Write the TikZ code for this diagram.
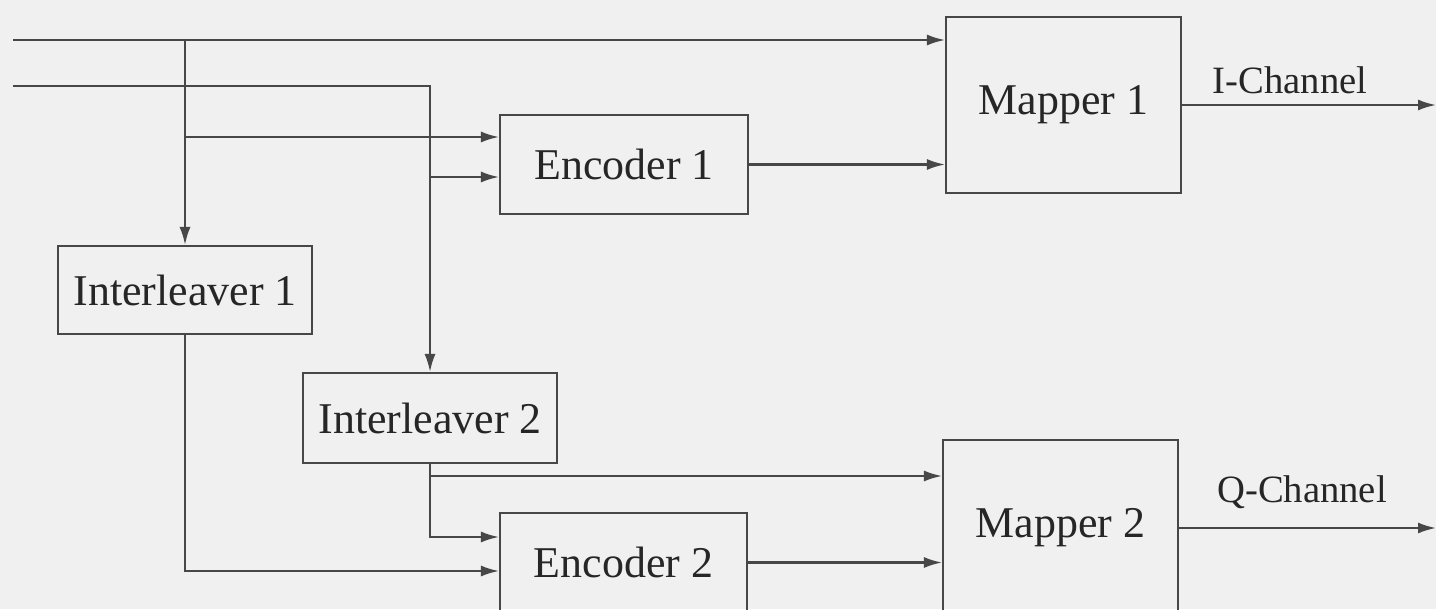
\documentclass[tikz,border=0pt]{standalone}
\usepackage{fontspec}
\setmainfont{Liberation Serif}
\usetikzlibrary{calc,arrows.meta,positioning}
\colorlet{lineA}{black!72}
\colorlet{textA}{black!85}
\colorlet{paperA}{black!6}
\tikzset{
  block/.style={draw=lineA, line width=0.6pt, rectangle, inner sep=0pt,
    text=textA, font=\fontsize{12.5}{14}\selectfont},
  signal/.style={draw=lineA, line width=0.6pt, -{Latex[length=1.8mm,width=1.1mm]}},
  chanlabel/.style={text=textA, inner sep=0pt, font=\fontsize{11}{13}\selectfont}
}

\begin{document}
\begin{tikzpicture}
      % page frame (scanned figure, cut at the bottom)
      \useasboundingbox (0,0) rectangle (14.36,6.09);
      \fill[paperA] (0,0) rectangle (14.36,6.09);
      \clip (0,0) rectangle (14.36,6.09);

      % Blocks
      \node[block, minimum width=2.35cm, minimum height=1.76cm] (map1) at (10.635,5.04) {Mapper 1};
      \node[block, minimum width=2.48cm, minimum height=0.99cm] (enc1) at (6.24,4.445) {Encoder 1};
      \node[block, minimum width=2.54cm, minimum height=0.88cm] (int1) at (1.85,3.19) {Interleaver 1};
      \node[block, minimum width=2.54cm, minimum height=0.90cm] (int2) at (4.30,1.91) {Interleaver 2};
      \node[block, minimum width=2.47cm, minimum height=0.99cm] (enc2) at (6.235,0.465) {Encoder 2};
      \node[block, minimum width=2.35cm, minimum height=1.76cm] (map2) at (10.605,0.81) {Mapper 2};

      % Inputs and signal levels
      \coordinate (inA) at (0.13,5.69);
      \coordinate (inB) at (0.13,5.23);
      \coordinate (lvlA) at (0,4.72);
      \coordinate (lvlB) at (0,4.32);
      \coordinate (lvlC) at (0,1.33);
      \coordinate (lvlD) at (0,0.72);
      \coordinate (lvlE) at (0,0.38);
      \coordinate (outR) at (14.36,0);

      % First input: to Mapper 1, Interleaver 1 and Encoder 1
      \draw[signal] (inA) -- (inA -| map1.west);
      \draw[signal] (inA -| int1.north) -- (int1.north);
      \draw[signal] (int1.north |- lvlA) -- (lvlA -| enc1.west);

      % Second input: to Interleaver 2 and Encoder 1
      \draw[signal] (inB) -- (inB -| int2.north) -- (int2.north);
      \draw[signal] (int2.north |- lvlB) -- (lvlB -| enc1.west);

      % Upper branch
      \draw[signal] (enc1.east) -- (enc1.east -| map1.west);
      \draw[signal] (map1.east) -- (map1.east -| outR);
      \node[chanlabel] (chI) at (12.9,5.29) {I-Channel};

      % Lower branch
      \draw[signal] (int1.south) |- (lvlE -| enc2.west);
      \draw[signal] (int2.south) |- (lvlD -| enc2.west);
      \draw[signal] (int2.south |- lvlC) -- (lvlC -| map2.west);
      \draw[signal] (enc2.east) -- (enc2.east -| map2.west);
      \draw[signal] (map2.east) -- (map2.east -| outR);
      \node[chanlabel] (chQ) at (13.02,1.17) {Q-Channel};
    \end{tikzpicture}
\end{document}
